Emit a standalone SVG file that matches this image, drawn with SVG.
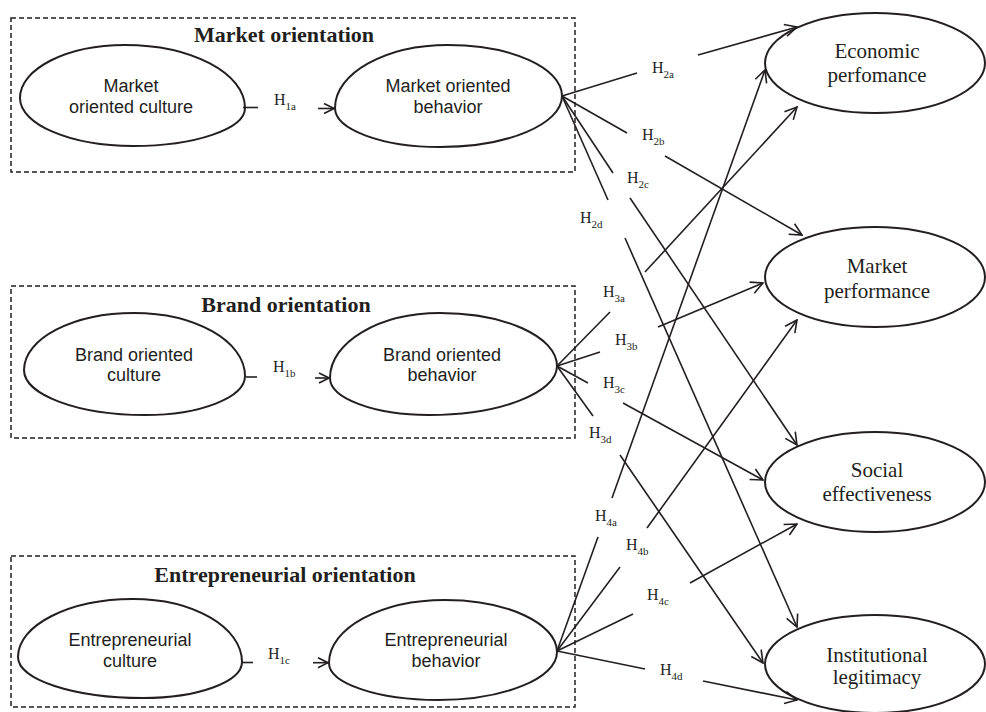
<svg xmlns="http://www.w3.org/2000/svg" width="986" height="712" viewBox="0 0 986 712">
<defs>
<style>
.box{fill:none;stroke:#231f20;stroke-width:1.5;stroke-dasharray:5,3}
.node{fill:#fff;stroke:#231f20;stroke-width:2}
.title{font-family:"Liberation Serif","Times New Roman",serif;font-weight:bold;font-size:22px;fill:#231f20;text-anchor:middle}
.sans{font-family:"Liberation Sans",Arial,sans-serif;font-size:18px;fill:#231f20;text-anchor:middle}
.serif{font-family:"Liberation Serif","Times New Roman",serif;font-size:21px;fill:#231f20;text-anchor:middle}
.lbl{font-family:"Liberation Serif","Times New Roman",serif;font-size:16px;fill:#231f20}
.sub{font-size:11px}
.c{fill:none;stroke:#231f20;stroke-width:1.6}
.a{marker-end:url(#arr)}
.s{marker-end:url(#arrS)}
</style>
<marker id="arr" viewBox="0 0 14 14" refX="13" refY="7" markerWidth="14" markerHeight="14" markerUnits="userSpaceOnUse" orient="auto">
<path d="M1,1 L13,7 L1,13" fill="none" stroke="#231f20" stroke-width="1.6"/>
</marker>
<marker id="arrS" viewBox="0 0 12 12" refX="11" refY="6" markerWidth="12" markerHeight="12" markerUnits="userSpaceOnUse" orient="auto">
<path d="M1,1 L11,6 L1,11" fill="none" stroke="#231f20" stroke-width="1.6"/>
</marker>
</defs>
<rect width="986" height="712" fill="#fff"/>

<g id="market-orientation">
<rect class="box" x="11" y="18" width="564" height="154"/>
<text class="title" x="284" y="42">Market orientation</text>
</g>
<g id="brand-orientation">
<rect class="box" x="11" y="286" width="564" height="152"/>
<text class="title" x="286" y="312">Brand orientation</text>
</g>
<g id="entrepreneurial-orientation">
<rect class="box" x="11" y="556" width="564" height="151"/>
<text class="title" x="285" y="582">Entrepreneurial orientation</text>
</g>

<g id="market-oriented-culture">
<path class="node" d="M245,108 C245,129 194.9,146 133,146 C70.6,146 20,124.5 20,98 C20,68.7 67,45 125,45 C191.3,45 245,73.2 245,108 Z"/>
<text class="sans" x="131" y="92">Market</text>
<text class="sans" x="131" y="113">oriented culture</text>
</g>
<g id="market-oriented-behavior">
<path class="node" d="M562,96 C562,124.2 507.4,147 440,147 C382,147 335,129.5 335,108 C335,73.2 385.6,45 448,45 C511,45 562,67.8 562,96 Z"/>
<text class="sans" x="448" y="92">Market oriented</text>
<text class="sans" x="448" y="113">behavior</text>
</g>
<g id="brand-oriented-culture">
<path class="node" d="M245,376 C245,397.5 200.2,415 145,415 C78.2,415 24,394.9 24,370 C24,338.5 73.2,313 134,313 C195.3,313 245,341.2 245,376 Z"/>
<text class="sans" x="134" y="361">Brand oriented</text>
<text class="sans" x="134" y="381">culture</text>
</g>
<g id="brand-oriented-behavior">
<path class="node" d="M557,366 C557,393.1 499.7,415 429,415 C374.3,415 330,398.4 330,378 C330,342.1 379.2,313 440,313 C504.6,313 557,336.7 557,366 Z"/>
<text class="sans" x="442" y="361">Brand oriented</text>
<text class="sans" x="442" y="381">behavior</text>
</g>
<g id="entrepreneurial-culture">
<path class="node" d="M242,662 C242,681.9 197.7,698 143,698 C74,698 18,679.6 18,657 C18,625 69.5,599 133,599 C193.2,599 242,627.2 242,662 Z"/>
<text class="sans" x="130" y="646">Entrepreneurial</text>
<text class="sans" x="130" y="667">culture</text>
</g>
<g id="entrepreneurial-behavior">
<path class="node" d="M557,652 C557,678.5 503.7,700 438,700 C377.8,700 329,683.4 329,663 C329,628.2 380.9,600 445,600 C506.9,600 557,623.3 557,652 Z"/>
<text class="sans" x="446" y="646">Entrepreneurial</text>
<text class="sans" x="446" y="667">behavior</text>
</g>

<g id="economic-performance">
<ellipse class="node" cx="875" cy="63" rx="110" ry="50"/>
<text class="serif" x="877" y="58">Economic</text>
<text class="serif" x="877" y="82">perfomance</text>
</g>
<g id="market-performance">
<ellipse class="node" cx="875" cy="277" rx="110" ry="50"/>
<text class="serif" x="877" y="273">Market</text>
<text class="serif" x="877" y="298">performance</text>
</g>
<g id="social-effectiveness">
<ellipse class="node" cx="875" cy="482" rx="110" ry="50"/>
<text class="serif" x="877" y="477">Social</text>
<text class="serif" x="877" y="501">effectiveness</text>
</g>
<g id="institutional-legitimacy">
<ellipse class="node" cx="875" cy="664" rx="110" ry="49"/>
<text class="serif" x="877" y="662">Institutional</text>
<text class="serif" x="877" y="684">legitimacy</text>
</g>

<g id="connectors">
<!-- H1 -->
<line class="c" x1="243" y1="107.5" x2="258" y2="107.5"/>
<line class="c s" x1="318" y1="108.5" x2="334" y2="108.5"/>
<line class="c" x1="246" y1="377" x2="257" y2="377"/>
<line class="c s" x1="315" y1="378" x2="329" y2="378"/>
<line class="c" x1="242" y1="662.5" x2="253" y2="662.5"/>
<line class="c s" x1="313" y1="662.7" x2="328" y2="662.7"/>
<!-- H2 -->
<line class="c" x1="562" y1="96" x2="637" y2="73"/>
<line class="c a" x1="698" y1="55" x2="797" y2="27"/>
<line class="c" x1="562" y1="96" x2="627" y2="133"/>
<line class="c a" x1="665" y1="156" x2="802" y2="235"/>
<line class="c" x1="562" y1="96" x2="613" y2="173"/>
<line class="c a" x1="630" y1="198" x2="797" y2="445"/>
<line class="c" x1="562" y1="96" x2="608" y2="200"/>
<line class="c a" x1="625" y1="238" x2="797" y2="627"/>
<!-- H3 -->
<line class="c" x1="557" y1="366" x2="610" y2="312"/>
<line class="c a" x1="645" y1="272" x2="797" y2="107"/>
<line class="c" x1="557" y1="366" x2="600" y2="352"/>
<line class="c a" x1="658" y1="327" x2="763" y2="283"/>
<line class="c" x1="557" y1="366" x2="588" y2="383"/>
<line class="c a" x1="623" y1="403" x2="763" y2="480"/>
<line class="c" x1="557" y1="366" x2="593" y2="416"/>
<line class="c a" x1="620" y1="455" x2="763" y2="663"/>
<!-- H4 -->
<line class="c" x1="557" y1="651" x2="598" y2="537"/>
<line class="c a" x1="612" y1="498" x2="765" y2="70"/>
<line class="c" x1="557" y1="651" x2="620" y2="567"/>
<line class="c a" x1="647" y1="528" x2="797" y2="320"/>
<line class="c" x1="557" y1="651" x2="633" y2="614"/>
<line class="c a" x1="690" y1="583" x2="797" y2="524"/>
<line class="c" x1="557" y1="651" x2="645" y2="669"/>
<line class="c a" x1="703" y1="681" x2="797" y2="700"/>

<text class="lbl" x="274" y="105">H<tspan class="sub" dy="5">1a</tspan></text>
<text class="lbl" x="273" y="372">H<tspan class="sub" dy="5">1b</tspan></text>
<text class="lbl" x="268" y="659">H<tspan class="sub" dy="5">1c</tspan></text>
<text class="lbl" x="652" y="73">H<tspan class="sub" dy="5">2a</tspan></text>
<text class="lbl" x="642" y="140">H<tspan class="sub" dy="5">2b</tspan></text>
<text class="lbl" x="627" y="183">H<tspan class="sub" dy="5">2c</tspan></text>
<text class="lbl" x="580" y="223">H<tspan class="sub" dy="5">2d</tspan></text>
<text class="lbl" x="603" y="297">H<tspan class="sub" dy="5">3a</tspan></text>
<text class="lbl" x="615" y="345">H<tspan class="sub" dy="5">3b</tspan></text>
<text class="lbl" x="603" y="388">H<tspan class="sub" dy="5">3c</tspan></text>
<text class="lbl" x="589" y="438">H<tspan class="sub" dy="5">3d</tspan></text>
<text class="lbl" x="595" y="521">H<tspan class="sub" dy="5">4a</tspan></text>
<text class="lbl" x="626" y="550">H<tspan class="sub" dy="5">4b</tspan></text>
<text class="lbl" x="647" y="600">H<tspan class="sub" dy="5">4c</tspan></text>
<text class="lbl" x="660" y="675">H<tspan class="sub" dy="5">4d</tspan></text>
</g>
</svg>
